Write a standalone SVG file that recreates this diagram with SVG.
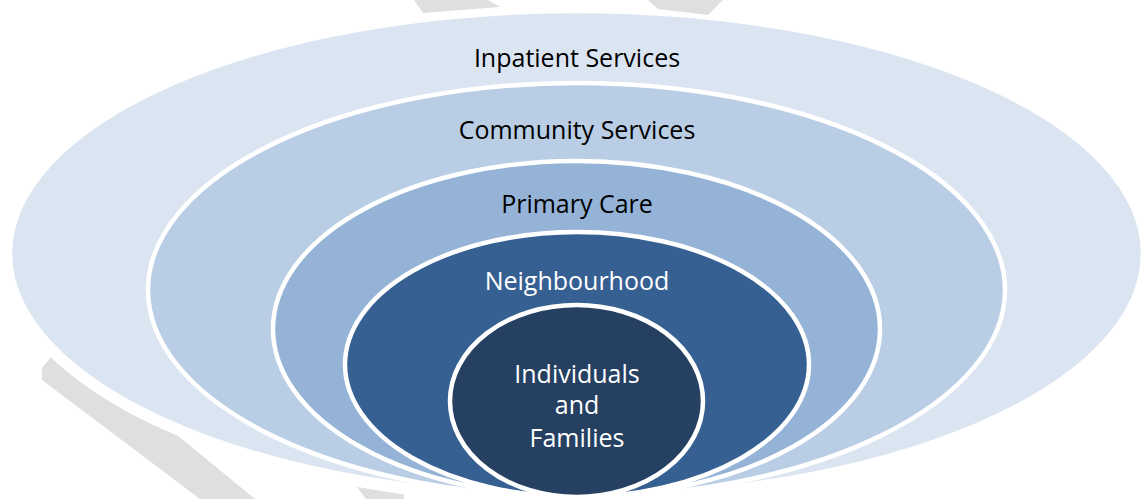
<svg xmlns="http://www.w3.org/2000/svg" width="1143" height="499" viewBox="0 0 1143 499">
  <style>
    .ring { stroke: #FFFFFF; stroke-width: 4.5; }
    .mark { fill: #DFDFDF; }
    .label { font-family: "Open Sans", "Noto Sans", "Liberation Sans", sans-serif; font-size: 25px; text-anchor: middle; }
    .dark { fill: #000000; }
    .light { fill: #FFFFFF; }
  </style>

  <rect x="0" y="0" width="1143" height="499" fill="#FFFFFF"/>

  <!-- faint background strokes -->
  <g id="backdrop">
    <polygon class="mark" points="42,380 42,368 50,358 62,348 110,380 255,499 200,499"/>
    <polygon class="mark" points="357,487 366,499 404,499 404,478 360,470"/>
    <!-- white margin around the outer ring -->
    <ellipse cx="576.5" cy="253.5" rx="576.5" ry="252.5" fill="#FFFFFF"/>
    <polygon class="mark" points="414,0 423,13 500,7 488,0"/>
    <polygon class="mark" points="648,0 658,9 708,15 723,0"/>
  </g>

  <g id="inpatient-services">
    <ellipse class="ring" cx="576.5" cy="253.5" rx="566.5" ry="242.5" fill="#DBE5F1" stroke="none"/>
    <text class="label dark" x="577" y="66.7">Inpatient Services</text>
  </g>

  <g id="community-services">
    <ellipse class="ring" cx="576.5" cy="290" rx="428.5" ry="207" fill="#B9CDE5"/>
    <text class="label dark" x="577" y="139">Community Services</text>
  </g>

  <g id="primary-care">
    <ellipse class="ring" cx="576.5" cy="329" rx="303.5" ry="168" fill="#95B3D7"/>
    <text class="label dark" x="577" y="213.3">Primary Care</text>
  </g>

  <g id="neighbourhood">
    <ellipse class="ring" cx="577" cy="364.5" rx="232" ry="132.5" fill="#366092"/>
    <text class="label light" x="577" y="290">Neighbourhood</text>
  </g>

  <g id="individuals-and-families">
    <ellipse class="ring" cx="576.5" cy="401" rx="126.5" ry="96" fill="#254061"/>
    <text class="label light" x="577" y="382.7">Individuals</text>
    <text class="label light" x="577" y="414">and</text>
    <text class="label light" x="577" y="446.7">Families</text>
  </g>
</svg>
